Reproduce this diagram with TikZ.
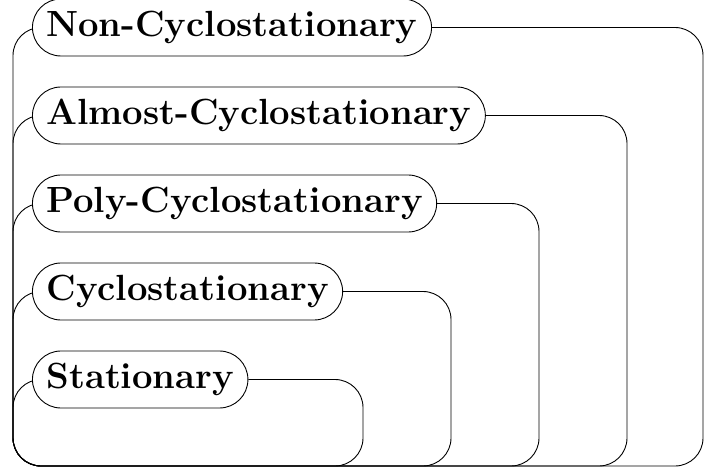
\documentclass[tikz,border=0pt]{standalone}
\usepackage{tikz}
\usetikzlibrary{positioning, backgrounds}

\begin{document}
\begin{tikzpicture}[
    x=1pt, y=-1pt,
    sigclass/.style={
      rectangle,
      draw,
      fill=white,
      line width=0.9pt,
      rounded corners=28.5pt,
      minimum height=57pt,
      inner xsep=14pt,
      anchor=west,
      font=\bfseries\fontsize{36.4}{44}\selectfont
    },
    setbox/.style={
      draw,
      line width=0.9pt,
      rounded corners=28pt
    }
  ]
    \path[use as bounding box] (0,0) rectangle (704,470);

    % class labels
    \node[sigclass] (non)   at (32, 27.5)  {Non-Cyclostationary};
    \node[sigclass] (almst) at (32, 115.5) {Almost-Cyclostationary};
    \node[sigclass] (poly)  at (32, 203.5) {Poly-Cyclostationary};
    \node[sigclass] (cyclo) at (32, 291.5) {Cyclostationary};
    \node[sigclass] (stat)  at (32, 379.5) {Stationary};

    % nested sets, behind the labels
    \begin{scope}[on background layer]
    \draw[setbox] (non.west)   -- (13, 27.5)  -- (13, 466) -- (703, 466) -- (703, 27.5)  -- (non.east);
    \draw[setbox] (almst.west) -- (13, 115.5) -- (13, 466) -- (627, 466) -- (627, 115.5) -- (almst.east);
    \draw[setbox] (poly.west)  -- (13, 203.5) -- (13, 466) -- (539, 466) -- (539, 203.5) -- (poly.east);
    \draw[setbox] (cyclo.west) -- (13, 291.5) -- (13, 466) -- (451, 466) -- (451, 291.5) -- (cyclo.east);
    \draw[setbox] (stat.west)  -- (13, 379.5) -- (13, 466) -- (363, 466) -- (363, 379.5) -- (stat.east);
    \end{scope}
  \end{tikzpicture}
\end{document}
